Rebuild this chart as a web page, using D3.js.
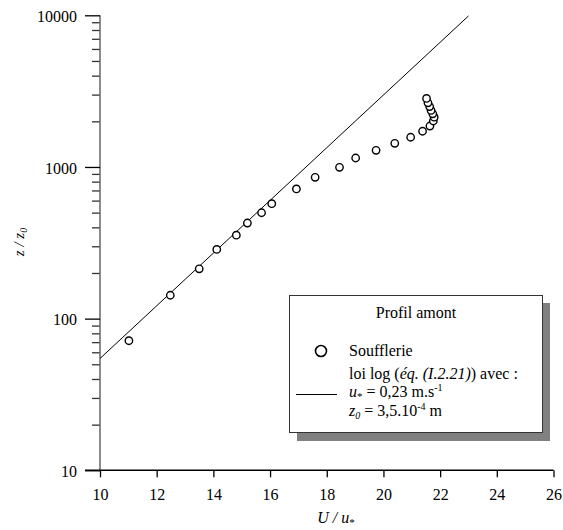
<!DOCTYPE html>
<html><head><meta charset="utf-8">
<script src="https://cdn.jsdelivr.net/npm/d3@7"></script>
<style>
body{margin:0;background:#fff;}
text{font-family:"Liberation Serif","Times New Roman",serif;}
</style></head>
<body><svg id="c" width="563" height="530"></svg>
<script>
// Data
const souffU = [11.02, 12.48, 13.50, 14.12, 14.81, 15.20, 15.70, 16.06, 16.93, 17.59, 18.45, 19.02, 19.74, 20.40, 20.96, 21.38, 21.64, 21.76, 21.79, 21.74, 21.68, 21.63, 21.57, 21.52];
const souffZ = [71.5, 142.6, 213, 286, 355, 427, 499, 573, 716, 855, 995, 1146, 1288, 1432, 1570, 1720, 1862, 2010, 2130, 2240, 2360, 2500, 2650, 2830];
const lineU = [10, 23.0];
const lineZ = [54.6, 9900];
const xTicks = [10, 12, 14, 16, 18, 20, 22, 24, 26];
const yTicks = [10, 100, 1000, 10000];

const svg = d3.select("#c");
const x = d3.scaleLinear().domain([10, 26]).range([100, 553.5]);
const y = d3.scaleLog().domain([10, 10000]).range([470.3, 15.3]);

// minor ticks
const minor = [];
for (let d = 10; d < 10000; d *= 10) for (let k = 2; k <= 9; k++) minor.push(d * k);

const gy = svg.append("g").attr("transform", "translate(100,0)");
gy.call(d3.axisLeft(y).tickValues(minor).tickSize(8).tickFormat(""));
gy.select(".domain").remove();
gy.selectAll("line").attr("stroke", "#333").attr("stroke-width", 1.3);
const gy2 = svg.append("g").attr("transform", "translate(100,0)").attr("font-family", "Liberation Serif");
gy2.call(d3.axisLeft(y).tickValues(yTicks).tickSize(15).tickPadding(8).tickFormat(d3.format("d")));
gy2.attr("font-family", "Liberation Serif").attr("font-size", 16);
gy2.select(".domain").attr("stroke", "#666").attr("stroke-width", 1.5).attr("d", `M0,${y(10)}V${y(10000)}`);
gy2.selectAll("line").attr("stroke", "#000").attr("stroke-width", 1.3);
gy2.selectAll("text").attr("font-size", 16).attr("fill", "#000").attr("dy", "0.38em");

const gx = svg.append("g").attr("transform", `translate(0,${y(10)})`);
gx.call(d3.axisBottom(x).tickValues(xTicks).tickSize(7).tickPadding(11).tickFormat(d3.format("d")));
gx.attr("font-family", "Liberation Serif").attr("font-size", 16);
gx.select(".domain").attr("stroke", "#000").attr("stroke-width", 1.5).attr("d", `M85,0H${x(26)}`);
gx.selectAll("line").attr("stroke", "#000").attr("stroke-width", 1.3);
gx.selectAll("text").attr("font-size", 16).attr("fill", "#000");

// axis titles
const xt = svg.append("text").attr("x", 336).attr("y", 523).attr("text-anchor", "middle").attr("font-size", 16);
xt.append("tspan").attr("font-style", "italic").text("U / u");
xt.append("tspan").attr("font-size", 11).attr("dy", 3).text("*");

const yt = svg.append("text").attr("transform", "translate(24,242) rotate(-90)").attr("text-anchor", "middle").attr("font-size", 15);
yt.append("tspan").attr("font-style", "italic").text("z / z");
yt.append("tspan").attr("font-style", "italic").attr("font-size", 10).attr("dy", 3).text("0");

// log law line
svg.append("path")
  .datum(lineU.map((u, i) => [u, lineZ[i]]))
  .attr("d", d3.line().x(d => x(d[0])).y(d => y(d[1])))
  .attr("fill", "none").attr("stroke", "#000").attr("stroke-width", 1);

// points
svg.append("g").selectAll("circle")
  .data(souffU.map((u, i) => [u, souffZ[i]]))
  .join("circle")
  .attr("cx", d => x(d[0])).attr("cy", d => y(d[1])).attr("r", 3.7)
  .attr("fill", "#fff").attr("stroke", "#000").attr("stroke-width", 1.4);

// legend
const lg = svg.append("g");
lg.append("rect").attr("x", 297).attr("y", 303).attr("width", 253).attr("height", 138).attr("fill", "#808080");
lg.append("rect").attr("x", 289.5).attr("y", 295.5).attr("width", 253).attr("height", 137).attr("fill", "#fff").attr("stroke", "#333").attr("stroke-width", 1);
lg.append("text").attr("x", 416).attr("y", 318).attr("text-anchor", "middle").attr("font-size", 16).text("Profil amont");
lg.append("circle").attr("cx", 321).attr("cy", 351).attr("r", 5.5).attr("fill", "#fff").attr("stroke", "#000").attr("stroke-width", 1.6);
lg.append("text").attr("x", 349).attr("y", 356).attr("font-size", 16).text("Soufflerie");
const t2 = lg.append("text").attr("x", 349).attr("y", 379).attr("font-size", 16);
t2.append("tspan").text("loi log (");
t2.append("tspan").attr("font-style", "italic").text("éq. (I.2.21)");
t2.append("tspan").text(") avec :");
lg.append("line").attr("x1", 296).attr("x2", 337).attr("y1", 394.5).attr("y2", 394.5).attr("stroke", "#000").attr("stroke-width", 1);
const t3 = lg.append("text").attr("x", 349).attr("y", 397).attr("font-size", 16);
t3.append("tspan").attr("font-style", "italic").text("u");
t3.append("tspan").attr("font-size", 11).attr("dy", 3).text("*");
t3.append("tspan").attr("dy", -3).text(" = 0,23 m.s");
t3.append("tspan").attr("font-size", 10).attr("dy", -6).text("-1");
const t4 = lg.append("text").attr("x", 349).attr("y", 416).attr("font-size", 16);
t4.append("tspan").attr("font-style", "italic").text("z");
t4.append("tspan").attr("font-style", "italic").attr("font-size", 10).attr("dy", 3).text("0");
t4.append("tspan").attr("dy", -3).text(" = 3,5.10");
t4.append("tspan").attr("font-size", 10).attr("dy", -6).text("-4");
t4.append("tspan").attr("dy", 6).text(" m");
</script></body></html>
